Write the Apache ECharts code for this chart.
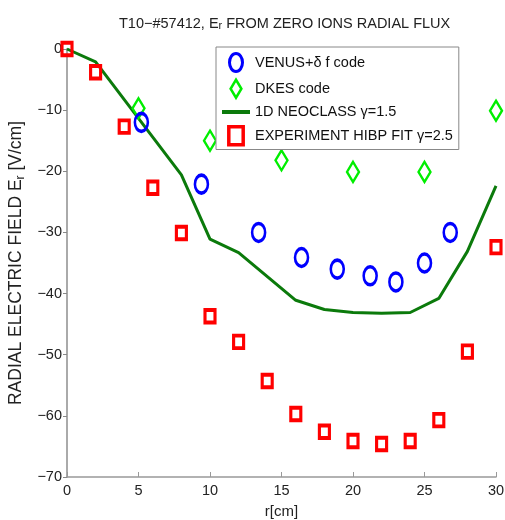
<!DOCTYPE html>
<html>
<head>
<meta charset="utf-8">
<script src="https://cdn.jsdelivr.net/npm/echarts@6/dist/echarts.min.js"></script>
<style>
  html, body { margin: 0; padding: 0; background: #fff; }
  #chart { width: 505px; height: 520px; }
</style>
</head>
<body>
<div id="chart"></div>
<script>
// data
var expR = [0, 2, 4, 6, 8, 10, 12, 14, 16, 18, 20, 22, 24, 26, 28, 30];
var expE = [0, -3.8, -12.7, -22.7, -30.1, -43.7, -47.9, -54.3, -59.7, -62.6, -64.1, -64.6, -64.1, -60.7, -49.5, -32.4];

var venusR = [5.2, 9.4, 13.4, 16.4, 18.9, 21.2, 23.0, 25.0, 26.8];
var venusE = [-12.0, -22.1, -30.0, -34.1, -36.0, -37.1, -38.1, -35.0, -30.0];

var dkesR = [5, 10, 15, 20, 25, 30];
var dkesE = [-9.7, -15.0, -18.2, -20.1, -20.1, -10.1];

var neoR = [0, 2, 8, 10, 12, 16, 18, 20, 22, 24, 26, 28, 30];
var neoE = [0, -2.1, -20.6, -31.1, -33.3, -41.1, -42.6, -43.1, -43.2, -43.1, -40.8, -33.1, -22.4];

var seriesNames = ['VENUS+\u03b4 f code', 'DKES code', '1D NEOCLASS \u03b3=1.5', 'EXPERIMENT HIBP FIT \u03b3=2.5'];

function zip(xs, ys) {
    return xs.map(function (x, i) { return [x, ys[i]]; });
}

var FONT = "'Liberation Sans', Arial, sans-serif";
var ellipse = 'path://M0,9A6.5,9,0,1,1,13,9A6.5,9,0,1,1,0,9Z';
var diamond = 'path://M6,0L12,10L6,20L0,10Z';
var square = 'path://M0,0L10,0L10,12.5L0,12.5Z';
var bar = 'path://M0,0L28,0L28,4L0,4Z';

var chart = echarts.init(document.getElementById('chart'));
chart.setOption({
    animation: false,
    backgroundColor: '#fff',
    title: {
        text: 'T10\u2212#57412, E{sub|r} FROM ZERO IONS RADIAL FLUX',
        left: 114,
        top: 11,
        textStyle: {
            fontFamily: FONT,
            fontSize: 14.5,
            fontWeight: 'normal',
            color: '#222',
            rich: {
                sub: { fontFamily: FONT, fontSize: 11, color: '#222', lineHeight: 9, verticalAlign: 'bottom' }
            }
        }
    },
    legend: {
        orient: 'vertical',
        left: 216,
        top: 47,
        padding: [5, 6, 3, 6],
        itemWidth: 28,
        itemHeight: 18,
        itemGap: 5.5,
        borderColor: '#888',
        borderWidth: 1,
        backgroundColor: '#fff',
        textStyle: { fontFamily: FONT, fontSize: 14.5, color: '#111' },
        data: [
            { name: seriesNames[0], icon: ellipse, itemStyle: { color: 'rgba(0,0,0,0)', borderColor: '#0000ff', borderWidth: 3, opacity: 1 } },
            { name: seriesNames[1], icon: diamond, itemStyle: { color: 'rgba(0,0,0,0)', borderColor: '#00ee00', borderWidth: 2.5, opacity: 1 } },
            { name: seriesNames[2], icon: bar, itemStyle: { color: '#0b7a0b', borderWidth: 0, opacity: 1 } },
            { name: seriesNames[3], icon: square, itemStyle: { color: 'rgba(0,0,0,0)', borderColor: '#ff0000', borderWidth: 3.5, opacity: 1 } }
        ]
    },
    grid: {
        left: 67,
        right: 9,
        top: 49,
        bottom: 43,
        outerBoundsMode: 'none'
    },
    xAxis: {
        type: 'value',
        min: 0,
        max: 30,
        interval: 5,
        name: 'r[cm]',
        nameLocation: 'middle',
        nameGap: 27,
        nameTextStyle: { fontFamily: FONT, fontSize: 15, color: '#222' },
        splitLine: { show: false },
        axisLine: { onZero: false, lineStyle: { color: '#999', width: 1.5 } },
        axisTick: { inside: true, length: 5, lineStyle: { color: '#999' } },
        axisLabel: { fontFamily: FONT, fontSize: 14.5, color: '#222', margin: 6 }
    },
    yAxis: {
        type: 'value',
        min: -70,
        max: 0,
        interval: 10,
        name: 'RADIAL ELECTRIC FIELD E{sub|r} [V/cm]',
        nameLocation: 'middle',
        nameGap: 32,
        nameTextStyle: {
            fontFamily: FONT,
            fontSize: 17.5,
            color: '#222',
            lineHeight: 20,
            rich: {
                sub: { fontFamily: FONT, fontSize: 12, color: '#222', lineHeight: 8, verticalAlign: 'bottom' }
            }
        },
        splitLine: { show: false },
        axisLine: { onZero: false, lineStyle: { color: '#aaa', width: 2 } },
        axisTick: { inside: false, length: 4, lineStyle: { color: '#888' } },
        axisLabel: {
            fontFamily: FONT,
            fontSize: 14.5,
            color: '#222',
            margin: 5,
            formatter: function (v) { return String(v).replace('-', '\u2212'); }
        }
    },
    series: [
        {
            type: 'scatter',
            name: seriesNames[0],
            symbol: ellipse,
            symbolKeepAspect: false,
            symbolSize: [13, 18],
            itemStyle: { color: 'rgba(0,0,0,0)', borderColor: '#0000ff', borderWidth: 3, opacity: 1 },
            z: 4,
            data: zip(venusR, venusE)
        },
        {
            type: 'scatter',
            name: seriesNames[1],
            symbol: diamond,
            symbolKeepAspect: false,
            symbolSize: [12, 20],
            itemStyle: { color: 'rgba(0,0,0,0)', borderColor: '#00ee00', borderWidth: 2.5, opacity: 1 },
            z: 3,
            data: zip(dkesR, dkesE)
        },
        {
            type: 'line',
            name: seriesNames[2],
            symbol: 'none',
            clip: false,
            lineStyle: { color: '#0b7a0b', width: 3 },
            itemStyle: { color: '#0b7a0b' },
            z: 2,
            data: zip(neoR, neoE)
        },
        {
            type: 'scatter',
            name: seriesNames[3],
            symbol: square,
            symbolKeepAspect: false,
            symbolSize: [10, 12.5],
            itemStyle: { color: 'rgba(0,0,0,0)', borderColor: '#ff0000', borderWidth: 3.5, opacity: 1 },
            z: 5,
            data: zip(expR, expE)
        }
    ]
});
</script>
</body>
</html>
